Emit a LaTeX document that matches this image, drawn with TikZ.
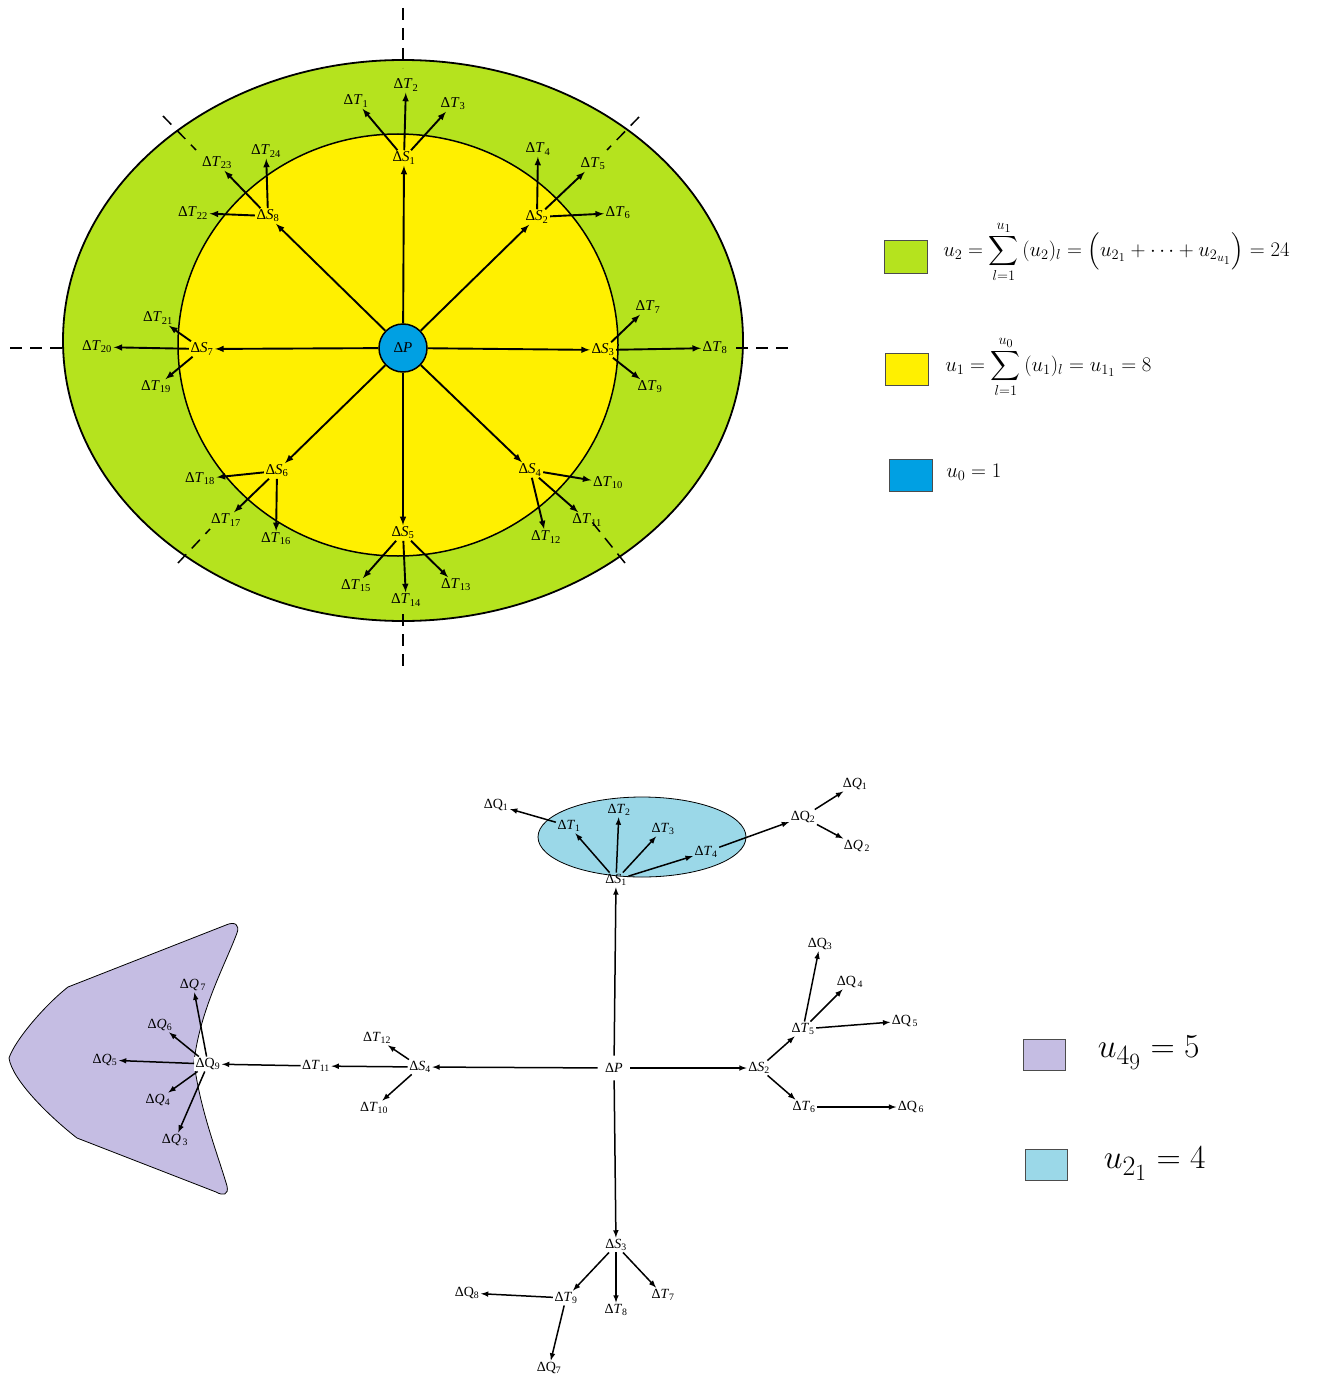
\documentclass[tikz,border=0pt]{standalone}
\usepackage{amsmath}
\usepackage{fontspec}
\setmainfont{Liberation Serif}

\definecolor{vert}{RGB}{181,227,30}
\definecolor{jaune}{RGB}{255,240,0}
\definecolor{bleuP}{RGB}{0,160,227}
\definecolor{bleuclair}{RGB}{155,216,232}
\definecolor{mauve}{RGB}{197,189,227}

% Etiquettes : Delta + lettre (italique ou droite) + indice
\newcommand{\dlt}[2]{Δ\textit{#1}\textsubscript{#2}}
\newcommand{\dlr}[2]{ΔQ\textsubscript{#2}}

\tikzset{
  lbl/.style={font=\fontsize{15}{17}\selectfont, inner sep=1.5pt},
  lblb/.style={font=\fontsize{14}{16}\selectfont, inner sep=1.5pt},
  fl/.style={->, >=latex, line width=1.5pt},
  flh/.style={fl, line width=1.9pt},
  secteur/.style={dash pattern=on 12pt off 8pt, line width=1.5pt},
  legbox/.style={draw=gray!60!black, line width=1pt, minimum width=43pt, minimum height=32pt, inner sep=0pt},
}

\begin{document}
\begin{tikzpicture}[x=1pt,y=-1pt]
        \useasboundingbox (0,0) rectangle (1319,1380);

        % Centre et demi-axes des deux couronnes
        \coordinate (M) at (403,340.5);
        \def\Rxdeux{340}
        \def\Rydeux{280.5}
        \coordinate (Mi) at (398,345);
        \def\Rxun{220}
        \def\Ryun{211}

        % Couronne u_2 (verte) et disque u_1 (jaune)
        \filldraw[fill=vert, line width=1.8pt] (M) ellipse ({\Rxdeux} and {\Rydeux});
        \filldraw[fill=jaune, line width=1.5pt] (Mi) ellipse ({\Rxun} and {\Ryun});

        % Limites des secteurs (tirets)
        \draw[secteur] (403,8) -- (403,68);
        \draw[secteur] (403,614) -- (403,668);
        \draw[secteur] (10,348) -- (68,348);
        \draw[secteur] (736,348) -- (793,348);
        \draw[secteur] (163,116) -- (196,150);
        \draw[secteur] (639,117) -- (607,150);
        \draw[secteur] (178,563) -- (210,529);
        \draw[secteur] (625,563) -- (592,522);

        % Centre u_0
        \node[circle, draw, line width=1.5pt, fill=bleuP, minimum size=48pt, inner sep=0pt, font=\fontsize{15}{17}\selectfont] (P) at (403,348) {Δ\textit{P}};

        % Premier niveau S
        \node[lbl] (S1) at (404,158) {\dlt{S}{1}};
        \node[lbl] (S2) at (537,217) {\dlt{S}{2}};
        \node[lbl] (S3) at (603,350) {\dlt{S}{3}};
        \node[lbl] (S4) at (530,470) {\dlt{S}{4}};
        \node[lbl] (S5) at (403,533) {\dlt{S}{5}};
        \node[lbl] (S6) at (277,471) {\dlt{S}{6}};
        \node[lbl] (S7) at (202,349) {\dlt{S}{7}};
        \node[lbl] (S8) at (268,216) {\dlt{S}{8}};

        % Second niveau T
        \node[lbl] (T1) at (356,101) {\dlt{T}{1}};
        \node[lbl] (T2) at (406,85) {\dlt{T}{2}};
        \node[lbl] (T3) at (453,104) {\dlt{T}{3}};
        \node[lbl] (T4) at (538,149) {\dlt{T}{4}};
        \node[lbl] (T5) at (593,164) {\dlt{T}{5}};
        \node[lbl] (T6) at (618,213) {\dlt{T}{6}};
        \node[lbl] (T7) at (648,307) {\dlt{T}{7}};
        \node[lbl] (T8) at (715,348) {\dlt{T}{8}};
        \node[lbl] (T9) at (650,387) {\dlt{T}{9}};
        \node[lbl] (T10) at (608,483) {\dlt{T}{10}};
        \node[lbl] (T11) at (587,520) {\dlt{T}{11}};
        \node[lbl] (T12) at (546,537) {\dlt{T}{12}};
        \node[lbl] (T13) at (456,585) {\dlt{T}{13}};
        \node[lbl] (T14) at (406,600) {\dlt{T}{14}};
        \node[lbl] (T15) at (356,586) {\dlt{T}{15}};
        \node[lbl] (T16) at (276,539) {\dlt{T}{16}};
        \node[lbl] (T17) at (226,520) {\dlt{T}{17}};
        \node[lbl] (T18) at (200,479) {\dlt{T}{18}};
        \node[lbl] (T19) at (156,387) {\dlt{T}{19}};
        \node[lbl] (T20) at (97,347) {\dlt{T}{20}};
        \node[lbl] (T21) at (158,318) {\dlt{T}{21}};
        \node[lbl] (T22) at (193,213) {\dlt{T}{22}};
        \node[lbl] (T23) at (217,163) {\dlt{T}{23}};
        \node[lbl] (T24) at (266,151) {\dlt{T}{24}};

        % Flèches P -> S
        \draw[flh] (P) -- (S1);
        \draw[flh] (P) -- (S2);
        \draw[flh] (P) -- (S3);
        \draw[flh] (P) -- (S4);
        \draw[flh] (P) -- (S5);
        \draw[flh] (P) -- (S6);
        \draw[flh] (P) -- (S7);
        \draw[flh] (P) -- (S8);

        % Flèches S -> T
        \draw[flh] (S1) -- (T1);
        \draw[flh] (S1) -- (T2);
        \draw[flh] (S1) -- (T3);
        \draw[flh] (S2) -- (T4);
        \draw[flh] (S2) -- (T5);
        \draw[flh] (S2) -- (T6);
        \draw[flh] (S3) -- (T7);
        \draw[flh] (S3) -- (T8);
        \draw[flh] (S3) -- (T9);
        \draw[flh] (S4) -- (T10);
        \draw[flh] (S4) -- (T11);
        \draw[flh] (S4) -- (T12);
        \draw[flh] (S5) -- (T13);
        \draw[flh] (S5) -- (T14);
        \draw[flh] (S5) -- (T15);
        \draw[flh] (S6) -- (T16);
        \draw[flh] (S6) -- (T17);
        \draw[flh] (S6) -- (T18);
        \draw[flh] (S7) -- (T19);
        \draw[flh] (S7) -- (T20);
        \draw[flh] (S7) -- (T21);
        \draw[flh] (S8) -- (T22);
        \draw[flh] (S8) -- (T23);
        \draw[flh] (S8) -- (T24);

        % Légende du haut
        \node[legbox, fill=vert] (leg2) at (905.5,257) {};
        \node[anchor=west, font=\LARGE, scale=1.2, transform shape] (eq2) at (939,252) {$u_2 = \displaystyle\sum_{l=1}^{u_1}\, (u_2)_l = \left(u_{2_1} + \cdots + u_{2_{u_1}}\right) = 24$};
        \node[legbox, fill=jaune] (leg1) at (907,369.5) {};
        \node[anchor=west, font=\LARGE, scale=1.2, transform shape] (eq1) at (941,367) {$u_1 = \displaystyle\sum_{l=1}^{u_0}\, (u_1)_l = u_{1_1} = 8$};
        \node[legbox, fill=bleuP] (leg0) at (910.5,475.5) {};
        \node[anchor=west, font=\LARGE, scale=1.2, transform shape] (eq0) at (942,472) {$u_0 = 1$};

        % Groupe u_{2_1} (ellipse bleue) et groupe u_{4_9} (forme mauve)
        \filldraw[fill=bleuclair, line width=0.8pt] (642,837) ellipse (104 and 40);
        \filldraw[fill=mauve, line width=0.8pt]
          (226,925) .. controls (235,921) and (240,925) .. (237,933)
          .. controls (225,965) and (200,1010) .. (194,1062)
          .. controls (200,1110) and (218,1155) .. (227,1186)
          .. controls (229,1195) and (223,1196) .. (216,1192)
          -- (77,1138)
          .. controls (50,1117) and (12,1080) .. (9,1058)
          .. controls (15,1040) and (45,1005) .. (68,987)
          -- cycle;

        % Arbre du bas
        \node[lblb] (bP) at (614,1068) {Δ\textit{P}};
        \node[lblb] (bS1) at (616,880) {\dlt{S}{1}};
        \node[lblb] (bS2) at (759,1068) {\dlt{S}{2}};
        \node[lblb] (bS3) at (616,1245) {\dlt{S}{3}};
        \node[lblb] (bS4) at (420,1067) {\dlt{S}{4}};

        \node[lblb] (bT1) at (569,826) {\dlt{T}{1}};
        \node[lblb] (bT2) at (619,810) {\dlt{T}{2}};
        \node[lblb] (bT3) at (663,829) {\dlt{T}{3}};
        \node[lblb] (bT4) at (706,852) {\dlt{T}{4}};
        \node[lblb] (bQ1a) at (496,805) {\dlr{Q}{1}};
        \node[lblb] (bQ2a) at (803,817) {\dlr{Q}{2}};
        \node[lblb] (bQ1b) at (855,784) {\dlt{Q}{1}};
        \node[lblb] (bQ2b) at (857,846) {\dlt{Q}{\,2}};

        \node[lblb] (bT5) at (803,1029) {\dlt{T}{5}};
        \node[lblb] (bT6) at (804,1107) {\dlt{T}{6}};
        \node[lblb] (bQ3) at (820,944) {\dlr{Q}{3}};
        \node[lblb] (bQ4) at (850,982) {\dlr{Q}{\,4}};
        \node[lblb] (bQ5) at (905,1021) {\dlr{Q}{\,5}};
        \node[lblb] (bQ6) at (911,1107) {\dlr{Q}{\,6}};

        \node[lblb] (bT10) at (374,1108) {\dlt{T}{10}};
        \node[lblb] (bT11) at (316,1066) {\dlt{T}{11}};
        \node[lblb] (bT12) at (377,1038) {\dlt{T}{12}};
        \node[lblb, fill=white] (bQ9) at (208,1064) {\dlr{Q}{9}};
        \node[lblb] (bQ7a) at (193,985) {\dlt{Q}{\,7}};
        \node[lblb] (bQ6a) at (160,1025) {\dlt{Q}{6}};
        \node[lblb] (bQ5a) at (105,1060) {\dlt{Q}{5}};
        \node[lblb] (bQ4a) at (158,1100) {\dlt{Q}{4}};
        \node[lblb] (bQ3a) at (175,1140) {\dlt{Q}{\,3}};

        \node[lblb] (bT7) at (663,1295) {\dlt{T}{7}};
        \node[lblb] (bT8) at (616,1310) {\dlt{T}{8}};
        \node[lblb] (bT9) at (566,1298) {\dlt{T}{9}};
        \node[lblb] (bQ8) at (467,1293) {\dlr{Q}{8}};
        \node[lblb] (bQ7b) at (549,1368) {\dlr{Q}{7}};

        % Flèches du bas
        \draw[fl, shorten <=6pt] (bP) -- (bS1);
        \draw[fl, shorten <=6pt] (bP) -- (bS2);
        \draw[fl, shorten <=6pt] (bP) -- (bS3);
        \draw[fl, shorten <=6pt] (bP) -- (bS4);

        \draw[fl] (bS1) -- (bT1);
        \draw[fl] (bS1) -- (bT2);
        \draw[fl] (bS1) -- (bT3);
        \draw[fl] (bS1) -- (bT4);
        \draw[fl] (bT1) -- (bQ1a);
        \draw[fl] (bT4) -- (bQ2a);
        \draw[fl] (bQ2a) -- (bQ1b);
        \draw[fl] (bQ2a) -- (bQ2b);

        \draw[fl] (bS2) -- (bT5);
        \draw[fl] (bS2) -- (bT6);
        \draw[fl] (bT5) -- (bQ3);
        \draw[fl] (bT5) -- (bQ4);
        \draw[fl] (bT5) -- (bQ5);
        \draw[fl] (bT6) -- (bQ6);

        \draw[fl] (bS4) -- (bT10);
        \draw[fl] (bS4) -- (bT11);
        \draw[fl] (bS4) -- (bT12);
        \draw[fl] (bT11) -- (bQ9);
        \draw[fl] (bQ9) -- (bQ7a);
        \draw[fl] (bQ9) -- (bQ6a);
        \draw[fl] (bQ9) -- (bQ5a);
        \draw[fl] (bQ9) -- (bQ4a);
        \draw[fl] (bQ9) -- (bQ3a);

        \draw[fl] (bS3) -- (bT7);
        \draw[fl] (bS3) -- (bT8);
        \draw[fl] (bS3) -- (bT9);
        \draw[fl] (bT9) -- (bQ8);
        \draw[fl] (bT9) -- (bQ7b);

        % Légende du bas
        \node[legbox, fill=mauve, minimum width=42pt, minimum height=31pt] (leg49) at (1044,1055) {};
        \node[anchor=west, font=\Huge, scale=1.35, transform shape] (eq49) at (1093,1053) {$u_{4_9} = 5$};
        \node[legbox, fill=bleuclair, minimum width=42pt, minimum height=31pt] (leg21) at (1046,1165) {};
        \node[anchor=west, font=\Huge, scale=1.35, transform shape] (eq21) at (1099,1164) {$u_{2_1} = 4$};

    \end{tikzpicture}
\end{document}
